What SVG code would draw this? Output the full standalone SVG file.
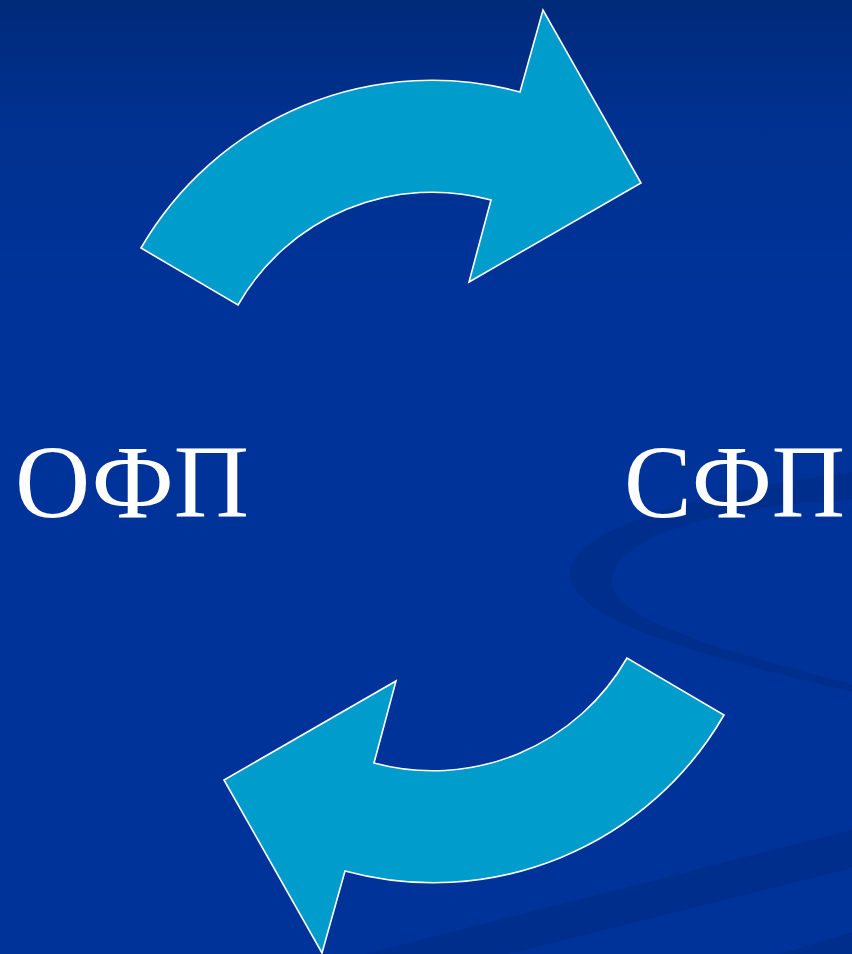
<svg xmlns="http://www.w3.org/2000/svg" width="852" height="954" viewBox="0 0 852 954">
  <defs>
    <linearGradient id="bg" x1="0" y1="0" x2="0" y2="1">
      <stop offset="0" stop-color="#002a7a"/>
      <stop offset="0.12" stop-color="#00318f"/>
      <stop offset="0.3" stop-color="#003399"/>
      <stop offset="1" stop-color="#003399"/>
    </linearGradient>
    <style>
      .arrow { fill: #009ccc; stroke: #ffffff; stroke-width: 1.6; stroke-linejoin: miter; }
      .label { font-family: "Liberation Serif", "Times New Roman", serif; font-size: 104px; fill: #ffffff; }
      .swoosh { fill: #002e8a; opacity: 0.75; }
    </style>
  </defs>
  <rect x="0" y="0" width="852" height="954" fill="url(#bg)"/>
  <g id="background-swooshes">
    <path class="swoosh" d="M852,472 C700,492 562,530 570,578 C580,625 720,660 852,692 L852,684 C740,655 605,620 612,578 C620,530 740,505 852,500 Z"/>
    <path class="swoosh" d="M852,830 L852,868 L508,954 L364,954 Z"/>
    <path class="swoosh" d="M852,932 L852,954 L780,954 Z"/>
  </g>
  <g id="node-ofp">
    <text class="label" x="15" y="517" textLength="234" lengthAdjust="spacingAndGlyphs">ОФП</text>
  </g>
  <g id="node-sfp">
    <text class="label" x="624" y="517" textLength="221" lengthAdjust="spacingAndGlyphs">СФП</text>
  </g>
  <g id="connectors">
    <path id="arrow-top" class="arrow" d="M141,248 A336,336 0 0 1 520,92 L543,10 L641,183 L469,282 L491,200 A224,224 0 0 0 238,305 Z"/>
    <path id="arrow-bottom" class="arrow" transform="rotate(180 432.5 481.5)" d="M141,248 A336,336 0 0 1 520,92 L543,10 L641,183 L469,282 L491,200 A224,224 0 0 0 238,305 Z"/>
  </g>
</svg>
